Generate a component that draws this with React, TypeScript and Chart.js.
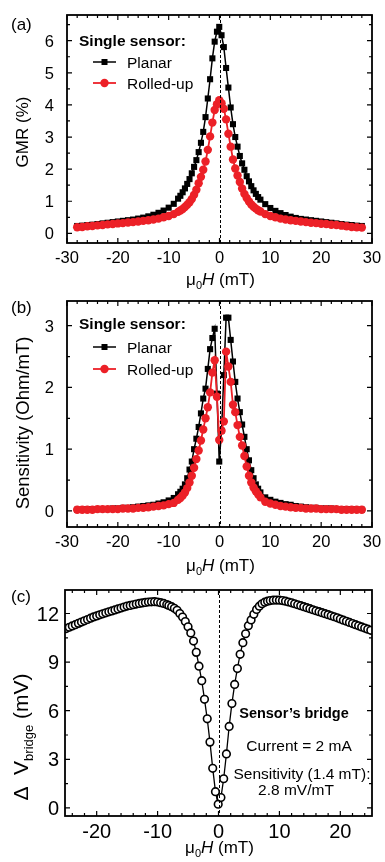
import React, { useEffect, useRef } from "react";
import { Chart, registerables } from "chart.js";

Chart.register(...registerables);

const FAMILY = "'Liberation Sans', Arial, Helvetica, sans-serif";
const RED = "#EC2027";
const W = 385;

// ---------- data: panels (a) and (b) ----------
const X_AB = [
  -28, -27, -26, -25, -24, -23, -22, -21, -20, -19, -18, -17, -16, -15, -14, -13, -12, -11, -10, -9,
  -8.15, -7.7, -7.25, -6.8, -6.35, -5.9, -5.45, -5.0, -4.55, -4.1, -3.65, -3.2, -2.75, -2.3, -1.85, -1.4, -0.95, -0.5, -0.05,
  0.4, 0.85, 1.3, 1.75, 2.2, 2.65, 3.1, 3.55, 4.0, 4.45, 4.9, 5.35, 5.8, 6.25, 6.7, 7.15, 7.6, 8.05,
  9, 10, 11, 12, 13, 14, 15, 16, 17, 18, 19, 20, 21, 22, 23, 24, 25, 26, 27, 28,
];

const GMR_PLANAR = [
  0.23, 0.24, 0.26, 0.27, 0.29, 0.31, 0.33, 0.35, 0.37, 0.39, 0.41, 0.43, 0.46, 0.49, 0.53, 0.58, 0.64, 0.71, 0.8, 0.92,
  1.08, 1.17, 1.28, 1.4, 1.54, 1.69, 1.87, 2.07, 2.28, 2.53, 2.82, 3.16, 3.62, 4.2, 4.8, 5.45, 5.97, 6.28, 6.43,
  6.17, 5.8, 5.15, 4.54, 3.92, 3.4, 3.0, 2.7, 2.41, 2.18, 1.98, 1.78, 1.62, 1.47, 1.34, 1.23, 1.13, 1.05,
  0.91, 0.79, 0.7, 0.63, 0.57, 0.52, 0.48, 0.45, 0.43, 0.41, 0.39, 0.37, 0.35, 0.33, 0.31, 0.29, 0.27, 0.26, 0.24, 0.23,
];

const GMR_ROLLED = [
  0.19, 0.2, 0.22, 0.23, 0.25, 0.26, 0.28, 0.29, 0.31, 0.32, 0.34, 0.35, 0.37, 0.39, 0.41, 0.43, 0.46, 0.5, 0.54, 0.6,
  0.67, 0.71, 0.76, 0.82, 0.89, 0.97, 1.07, 1.2, 1.36, 1.56, 1.76, 1.98, 2.24, 2.6, 3.02, 3.45, 3.84, 4.02, 4.15,
  4.05, 3.88, 3.55, 3.1, 2.7, 2.3, 2.02, 1.8, 1.6, 1.4, 1.23, 1.1, 0.99, 0.9, 0.83, 0.77, 0.72, 0.68,
  0.6, 0.54, 0.5, 0.46, 0.43, 0.41, 0.39, 0.37, 0.35, 0.33, 0.32, 0.3, 0.29, 0.27, 0.26, 0.24, 0.22, 0.2, 0.19, 0.18,
];

const SENS_PLANAR = [
  0.02, 0.02, 0.03, 0.03, 0.03, 0.03, 0.03, 0.04, 0.04, 0.05, 0.05, 0.06, 0.07, 0.08, 0.09, 0.1, 0.12, 0.14, 0.17, 0.21,
  0.27, 0.31, 0.36, 0.43, 0.53, 0.67, 0.8, 1.0, 1.17, 1.36, 1.58, 1.82, 1.98, 2.3, 2.62, 2.8, 2.95, 1.9, 0.8,
  1.3, 2.2, 3.13, 3.13, 2.77, 2.42, 2.09, 1.82, 1.6, 1.4, 1.2, 1.0, 0.82, 0.66, 0.53, 0.43, 0.36, 0.3,
  0.22, 0.18, 0.15, 0.13, 0.11, 0.1, 0.08, 0.07, 0.06, 0.05, 0.05, 0.04, 0.04, 0.04, 0.03, 0.03, 0.03, 0.03, 0.02, 0.02,
];

const SENS_ROLLED = [
  0.02, 0.02, 0.02, 0.02, 0.03, 0.03, 0.03, 0.03, 0.03, 0.04, 0.04, 0.04, 0.05, 0.05, 0.06, 0.07, 0.08, 0.09, 0.11, 0.13,
  0.18, 0.21, 0.25, 0.3, 0.37, 0.46, 0.57, 0.7, 0.84, 0.98, 1.14, 1.32, 1.5, 1.68, 1.92, 2.24, 2.44, 1.85, 1.15,
  1.3, 1.45, 2.58, 2.34, 2.09, 1.72, 1.6, 1.39, 1.2, 1.06, 0.89, 0.72, 0.57, 0.46, 0.38, 0.32, 0.27, 0.22,
  0.15, 0.12, 0.1, 0.08, 0.07, 0.06, 0.05, 0.05, 0.04, 0.04, 0.04, 0.03, 0.03, 0.03, 0.03, 0.02, 0.02, 0.02, 0.02, 0.02,
];

// ---------- data: panel (c) ----------
const X_C = [
  -25, -24.5, -24, -23.5, -23, -22.5, -22, -21.5, -21, -20.5, -20, -19.5, -19, -18.5, -18, -17.5, -17,
  -16.5, -16, -15.5, -15, -14.5, -14, -13.5, -13, -12.5, -12, -11.5, -11, -10.5, -10, -9.5, -9, -8.5,
  -8.15, -7.7, -7.25, -6.8, -6.35, -5.9, -5.45, -5.0, -4.55, -4.1, -3.65, -3.2, -2.75, -2.3, -1.85, -1.4, -0.95, -0.5, -0.05,
  0.4, 0.85, 1.3, 1.75, 2.2, 2.65, 3.1, 3.55, 4.0, 4.45, 4.9, 5.35, 5.8, 6.25, 6.7, 7.15, 7.6, 8.05,
  8.5, 9, 9.5, 10, 10.5, 11, 11.5, 12, 12.5, 13, 13.5, 14, 14.5, 15, 15.5, 16, 16.5,
  17, 17.5, 18, 18.5, 19, 19.5, 20, 20.5, 21, 21.5, 22, 22.5, 23, 23.5, 24, 24.5, 25,
];

const DV_BRIDGE = [
  11.07, 11.15, 11.23, 11.31, 11.39, 11.47, 11.55, 11.63, 11.71, 11.79, 11.85, 11.92, 11.98, 12.04, 12.1, 12.16, 12.22,
  12.28, 12.34, 12.4, 12.46, 12.5, 12.54, 12.58, 12.62, 12.65, 12.68, 12.71, 12.72, 12.73, 12.71, 12.67, 12.62, 12.55,
  12.5, 12.42, 12.32, 12.2, 12.0, 11.78, 11.5, 11.18, 10.8, 10.3, 9.6, 8.75, 7.85, 6.7, 5.5, 4.06, 2.44, 1.0, 0.23,
  0.64, 1.8, 3.33, 5.03, 6.44, 7.62, 8.6, 9.48, 10.2, 10.75, 11.25, 11.6, 11.95, 12.25, 12.45, 12.6, 12.7, 12.76,
  12.8, 12.82, 12.83, 12.82, 12.8, 12.76, 12.71, 12.66, 12.6, 12.54, 12.48, 12.42, 12.36, 12.3, 12.23, 12.17, 12.11,
  12.05, 11.99, 11.93, 11.86, 11.8, 11.73, 11.66, 11.59, 11.52, 11.45, 11.38, 11.31, 11.24, 11.17, 11.1, 11.03, 10.96,
];

// ---------- tick labels ----------
const X_TICKS_AB = [-30, -20, -10, 0, 10, 20, 30];
const Y_TICKS_A = [0, 1, 2, 3, 4, 5, 6];
const Y_TICKS_B = [0, 1, 2, 3];
const X_TICKS_C = [-20, -10, 0, 10, 20];
const Y_TICKS_C = [0, 3, 6, 9, 12];

type Part = { t: string; size: number; bold?: boolean; italic?: boolean; dy?: number };

function fontOf(p: Part) {
  return `${p.italic ? "italic " : ""}${p.bold ? "bold " : ""}${p.size}px ${FAMILY}`;
}

// draws a run of text parts; yc = visual centre of capitals of the main size
function drawParts(ctx: CanvasRenderingContext2D, parts: Part[], x: number, yc: number, align: "left" | "center", rotate = false) {
  const main = parts[0].size;
  ctx.save();
  ctx.translate(x, yc);
  if (rotate) ctx.rotate(-Math.PI / 2);
  ctx.textBaseline = "alphabetic";
  ctx.textAlign = "left";
  ctx.fillStyle = "#000";
  let total = 0;
  const widths = parts.map((p) => {
    ctx.font = fontOf(p);
    const w = ctx.measureText(p.t).width;
    total += w;
    return w;
  });
  let cx = align === "center" ? -total / 2 : 0;
  const base = 0.358 * main;
  parts.forEach((p, i) => {
    ctx.font = fontOf(p);
    ctx.fillText(p.t, cx, base + (p.dy || 0));
    cx += widths[i];
  });
  ctx.restore();
}

interface Note { parts: Part[]; x: number; y: number }

interface PanelCfg {
  top: number; height: number;
  left: number; right: number; plotTop: number; plotBottom: number;
  xMin: number; xMax: number; yMin: number; yMax: number;
  xTicks: number[]; yTicks: number[]; xMinor: number; yMinor: number;
  tickSize: number; yLabelRight: number; xLabelY: number;
  xTitleY: number;
  yTitle: Part[]; yTitleX: number; yTitleY: number;
  panelLabel: string; panelLabelY: number;
  legendY?: number[];
  notes?: Note[];
  datasets: any[];
}

const pts = (xs: number[], ys: number[]) => xs.map((x, i) => ({ x, y: ys[i] }));

const planarSet = (ys: number[]) => ({
  label: "Planar",
  data: pts(X_AB, ys),
  borderColor: "#000",
  backgroundColor: "#000",
  borderWidth: 1.5,
  pointStyle: "rect",
  pointRadius: 4.3,
  pointBackgroundColor: "#000",
  pointBorderColor: "#000",
  pointBorderWidth: 0,
  order: 1,
});

const rolledSet = (ys: number[]) => ({
  label: "Rolled-up",
  data: pts(X_AB, ys),
  borderColor: RED,
  backgroundColor: RED,
  borderWidth: 1.8,
  pointStyle: "circle",
  pointRadius: 4.2,
  pointBackgroundColor: RED,
  pointBorderColor: RED,
  pointBorderWidth: 0,
  order: 0,
});

const X_TITLE: Part[] = [
  { t: "\u03bc", size: 17 },
  { t: "0", size: 11, dy: 4 },
  { t: "H", size: 17, italic: true },
  { t: " (mT)", size: 17 },
];

const PANELS: PanelCfg[] = [
  {
    top: 0, height: 300, left: 67, right: 372, plotTop: 15, plotBottom: 243,
    xMin: -30, xMax: 30, yMin: -0.3, yMax: 6.8,
    xTicks: X_TICKS_AB, yTicks: Y_TICKS_A, xMinor: 2, yMinor: 0.5,
    tickSize: 16.5, yLabelRight: 54, xLabelY: 257, xTitleY: 279,
    yTitle: [{ t: "GMR (%)", size: 17 }], yTitleX: 22, yTitleY: 132,
    panelLabel: "(a)", panelLabelY: 24,
    legendY: [40, 62, 83],
    datasets: [planarSet(GMR_PLANAR), rolledSet(GMR_ROLLED)],
  },
  {
    top: 286, height: 300, left: 67, right: 372, plotTop: 15, plotBottom: 241,
    xMin: -30, xMax: 30, yMin: -0.26, yMax: 3.4,
    xTicks: X_TICKS_AB, yTicks: Y_TICKS_B, xMinor: 2, yMinor: 0.5,
    tickSize: 16.5, yLabelRight: 54, xLabelY: 255, xTitleY: 279,
    yTitle: [{ t: "Sensitivity (Ohm/mT)", size: 18.5 }], yTitleX: 22, yTitleY: 137,
    panelLabel: "(b)", panelLabelY: 21,
    legendY: [37, 61, 83],
    datasets: [planarSet(SENS_PLANAR), rolledSet(SENS_ROLLED)],
  },
  {
    top: 575, height: 287, left: 65, right: 372, plotTop: 15, plotBottom: 241,
    xMin: -25.2, xMax: 25.2, yMin: -0.5, yMax: 13.45,
    xTicks: X_TICKS_C, yTicks: Y_TICKS_C, xMinor: 2, yMinor: 1.5,
    tickSize: 20, yLabelRight: 59, xLabelY: 256, xTitleY: 272,
    yTitle: [
      { t: "\u0394", size: 21 },
      { t: "  V", size: 21 },
      { t: "bridge", size: 13, dy: 5 },
      { t: " (mV)", size: 21 },
    ],
    yTitleX: 20, yTitleY: 162,
    panelLabel: "(c)", panelLabelY: 21,
    notes: [
      { parts: [{ t: "Sensor\u2019s bridge", size: 14.5, bold: true }], x: 294, y: 138 },
      { parts: [{ t: "Current = 2 mA", size: 15.5 }], x: 299, y: 170 },
      { parts: [{ t: "Sensitivity (1.4 mT):", size: 15.5 }], x: 302, y: 198 },
      { parts: [{ t: "2.8 mV/mT", size: 15.5 }], x: 296, y: 214 },
    ],
    datasets: [
      {
        label: "Sensor's bridge",
        data: pts(X_C, DV_BRIDGE),
        borderColor: "#000",
        borderWidth: 1.3,
        pointStyle: "circle",
        pointRadius: 3.8,
        pointBackgroundColor: "#fff",
        pointBorderColor: "#000",
        pointBorderWidth: 1.6,
      },
    ],
  },
];

function minorValues(min: number, max: number, step: number, majors: number[]) {
  const out: number[] = [];
  const k0 = Math.ceil(min / step);
  const k1 = Math.floor(max / step);
  for (let k = k0; k <= k1; k++) {
    const v = +(k * step).toFixed(6);
    if (!majors.some((m) => Math.abs(m - v) < 1e-6)) out.push(v);
  }
  return out;
}

function makeDecor(cfg: PanelCfg) {
  return {
    id: "decor",
    afterDatasetsDraw(chart: any) {
      const { ctx, chartArea: a } = chart;
      const xs = chart.scales.x;
      const ys = chart.scales.y;
      ctx.save();
      // dashed zero line
      const x0 = Math.round(xs.getPixelForValue(0)) + 0.5;
      ctx.strokeStyle = "#000";
      ctx.lineWidth = 1;
      ctx.setLineDash([3, 2]);
      ctx.beginPath();
      ctx.moveTo(x0, a.top);
      ctx.lineTo(x0, a.bottom);
      ctx.stroke();
      ctx.setLineDash([]);
      // ticks (inward, mirrored)
      ctx.lineWidth = 1.2;
      const vTick = (v: number, len: number) => {
        const px = xs.getPixelForValue(v);
        ctx.beginPath();
        ctx.moveTo(px, a.bottom);
        ctx.lineTo(px, a.bottom - len);
        ctx.moveTo(px, a.top);
        ctx.lineTo(px, a.top + len);
        ctx.stroke();
      };
      const hTick = (v: number, len: number) => {
        const py = ys.getPixelForValue(v);
        ctx.beginPath();
        ctx.moveTo(a.left, py);
        ctx.lineTo(a.left + len, py);
        ctx.moveTo(a.right, py);
        ctx.lineTo(a.right - len, py);
        ctx.stroke();
      };
      cfg.xTicks.forEach((v) => vTick(v, 5));
      minorValues(cfg.xMin, cfg.xMax, cfg.xMinor, cfg.xTicks).forEach((v) => vTick(v, 3));
      cfg.yTicks.forEach((v) => hTick(v, 5));
      minorValues(cfg.yMin, cfg.yMax, cfg.yMinor, cfg.yTicks).forEach((v) => hTick(v, 3));
      // frame
      ctx.lineWidth = 1.8;
      ctx.strokeRect(a.left, a.top, a.right - a.left, a.bottom - a.top);
      ctx.restore();
    },
    afterDraw(chart: any) {
      const { ctx, chartArea: a } = chart;
      const xs = chart.scales.x;
      const ys = chart.scales.y;
      ctx.save();
      ctx.fillStyle = "#000";
      // tick labels
      ctx.font = `${cfg.tickSize}px ${FAMILY}`;
      ctx.textBaseline = "alphabetic";
      const tb = 0.358 * cfg.tickSize;
      ctx.textAlign = "center";
      cfg.xTicks.forEach((v) => {
        ctx.fillText(String(v), xs.getPixelForValue(v), cfg.xLabelY + tb);
      });
      ctx.textAlign = "right";
      cfg.yTicks.forEach((v) => {
        ctx.fillText(String(v), cfg.yLabelRight, ys.getPixelForValue(v) + tb);
      });
      ctx.restore();

      // axis titles
      drawParts(ctx, X_TITLE, (a.left + a.right) / 2 + 1, cfg.xTitleY, "center");
      drawParts(ctx, cfg.yTitle, cfg.yTitleX, cfg.yTitleY, "center", true);

      // panel label
      drawParts(ctx, [{ t: cfg.panelLabel, size: 17 }], 11, cfg.panelLabelY, "left");

      // legend
      if (cfg.legendY) {
        const [hy, py, ry] = cfg.legendY;
        drawParts(ctx, [{ t: "Single sensor:", size: 15.5, bold: true }], 79, hy, "left");
        drawParts(ctx, [{ t: "Planar", size: 15.5 }], 127, py, "left");
        drawParts(ctx, [{ t: "Rolled-up", size: 15.5 }], 127, ry, "left");
        ctx.save();
        ctx.strokeStyle = "#000";
        ctx.lineWidth = 1.5;
        ctx.beginPath();
        ctx.moveTo(93, py);
        ctx.lineTo(116, py);
        ctx.stroke();
        ctx.fillStyle = "#000";
        ctx.fillRect(104.5 - 3, py - 3, 6, 6);
        ctx.strokeStyle = RED;
        ctx.lineWidth = 1.8;
        ctx.beginPath();
        ctx.moveTo(93, ry);
        ctx.lineTo(116, ry);
        ctx.stroke();
        ctx.fillStyle = RED;
        ctx.beginPath();
        ctx.arc(104.5, ry, 4.2, 0, Math.PI * 2);
        ctx.fill();
        ctx.restore();
      }

      // annotations
      (cfg.notes || []).forEach((n) => drawParts(ctx, n.parts, n.x, n.y, "center"));
    },
  };
}

function Panel({ cfg }: { cfg: PanelCfg }) {
  const ref = useRef<HTMLCanvasElement | null>(null);
  useEffect(() => {
    if (!ref.current) return;
    const chart = new Chart(ref.current, {
      type: "line",
      data: { datasets: cfg.datasets },
      options: {
        animation: false,
        responsive: false,
        events: [],
        layout: {
          padding: {
            left: cfg.left,
            right: W - cfg.right,
            top: cfg.plotTop,
            bottom: cfg.height - cfg.plotBottom,
          },
        },
        plugins: { legend: { display: false }, tooltip: { enabled: false } },
        elements: { line: { tension: 0 } },
        scales: {
          x: { type: "linear", display: false, min: cfg.xMin, max: cfg.xMax },
          y: { type: "linear", display: false, min: cfg.yMin, max: cfg.yMax },
        },
      },
      plugins: [makeDecor(cfg)],
    } as any);
    return () => chart.destroy();
  }, [cfg]);
  return (
    <canvas
      ref={ref}
      width={W}
      height={cfg.height}
      style={{ position: "absolute", left: 0, top: cfg.top, width: W, height: cfg.height, display: "block" }}
    />
  );
}

export default function App() {
  return (
    <div style={{ position: "absolute", left: 0, top: 0, width: W, height: 862, background: "#fff", overflow: "hidden" }}>
      {PANELS.map((p, i) => (
        <Panel key={i} cfg={p} />
      ))}
    </div>
  );
}
